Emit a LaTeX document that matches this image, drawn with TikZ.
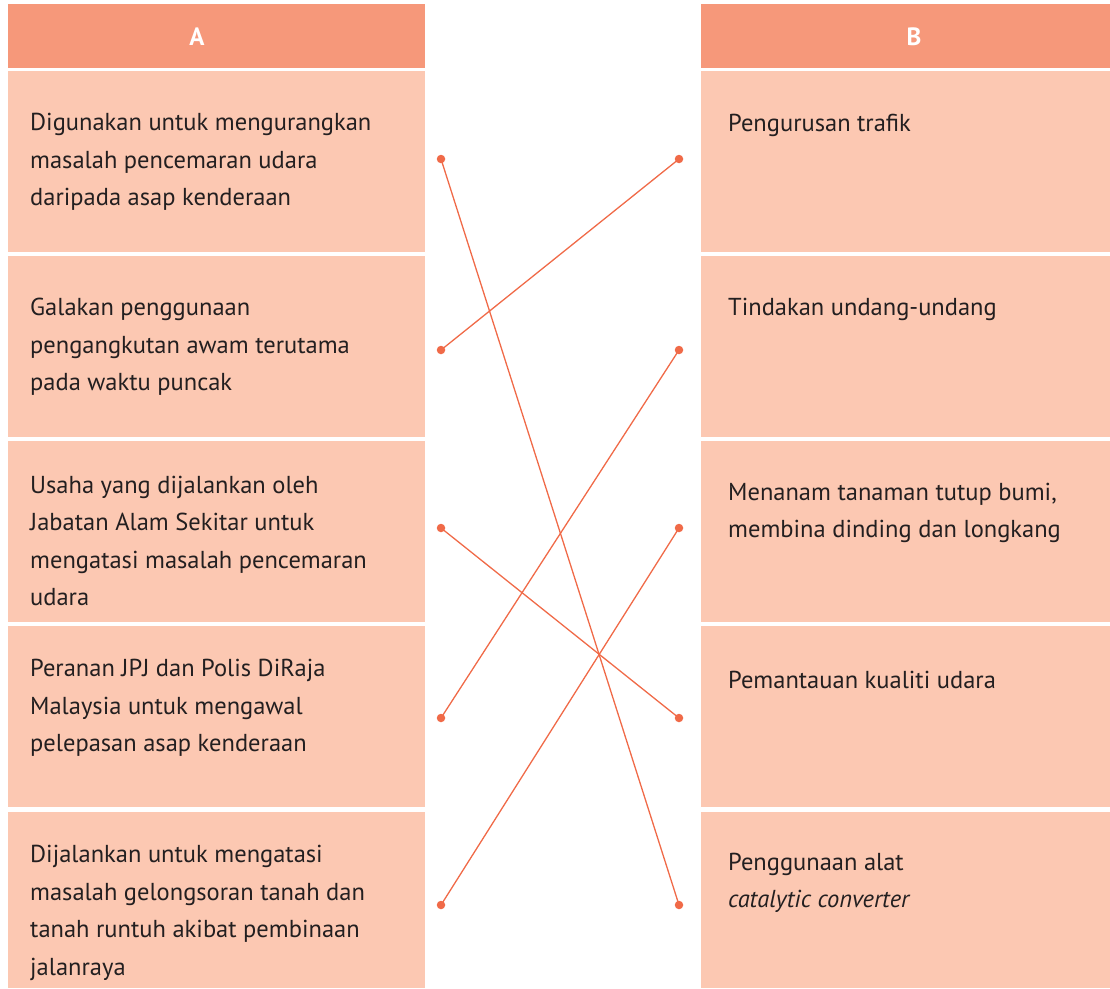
\documentclass[tikz,border=0pt]{standalone}
\usepackage{fontspec}
\setmainfont{PT Sans}
\definecolor{hdr}{HTML}{F6987A}
\definecolor{cell}{HTML}{FCC8B2}
\definecolor{lnk}{HTML}{F06A48}
\definecolor{txt}{HTML}{231F20}
\begin{document}
\begin{tikzpicture}[x=1pt,y=-1pt,
  hdrbox/.style={fill=hdr,draw=none},
  cellbox/.style={fill=cell,draw=none},
  hdrtext/.style={text=white,font=\fontsize{25}{28}\selectfont\bfseries},
  celltext/.style={text=txt,anchor=west,align=left,inner sep=0pt,font=\fontsize{24.5}{37.5}\selectfont},
  dot/.style={circle,fill=lnk,inner sep=0pt,minimum size=8.5pt},
  link/.style={draw=lnk,line width=1.3pt}]
\useasboundingbox (0,0) rectangle (1110,988);
% headers
\fill[hdrbox] (8,4) rectangle (425,68);
\fill[hdrbox] (701,4) rectangle (1110,68);
\node[hdrtext] (ha) at (197,37) {A};
\node[hdrtext] (hb) at (914,37) {B};
% cells
\foreach \t/\b in {71/252,256/437,441/622,626/807,812/988}{
  \fill[cellbox] (8,\t) rectangle (425,\b);
  \fill[cellbox] (701,\t) rectangle (1110,\b);
}
% left texts
\node[celltext] (a1) at (30,162) {Digunakan untuk mengurangkan\\masalah pencemaran udara\\daripada asap kenderaan};
\node[celltext] (a2) at (30,347) {Galakan penggunaan\\pengangkutan awam terutama\\pada waktu puncak};
\node[celltext] (a3) at (30,541) {Usaha yang dijalankan oleh\\Jabatan Alam Sekitar untuk\\mengatasi masalah pencemaran\\udara};
\node[celltext] (a4) at (30,708) {Peranan JPJ dan Polis DiRaja\\Malaysia untuk mengawal\\pelepasan asap kenderaan};
\node[celltext] (a5) at (30,913) {Dijalankan untuk mengatasi\\masalah gelongsoran tanah dan\\tanah runtuh akibat pembinaan\\jalanraya};
% right texts
\node[celltext] (b1) at (728,125) {Pengurusan trafik};
\node[celltext] (b2) at (728,309) {Tindakan undang-undang};
\node[celltext] (b3) at (728,513) {Menanam tanaman tutup bumi,\\membina dinding dan longkang};
\node[celltext] (b4) at (728,680) {Pemantauan kualiti udara};
\node[celltext] (b5) at (728,883) {Penggunaan alat\\\textit{catalytic converter}};
% dots
\node[dot] (l1) at (441,159) {};
\node[dot] (l2) at (441,350) {};
\node[dot] (l3) at (441,528) {};
\node[dot] (l4) at (441,718) {};
\node[dot] (l5) at (441,905) {};
\node[dot] (r1) at (679,159) {};
\node[dot] (r2) at (679,350) {};
\node[dot] (r3) at (679,528) {};
\node[dot] (r4) at (679,718) {};
\node[dot] (r5) at (679,905) {};
% links
\draw[link] (l1.center) -- (r5.center);
\draw[link] (l2.center) -- (r1.center);
\draw[link] (l3.center) -- (r4.center);
\draw[link] (l4.center) -- (r2.center);
\draw[link] (l5.center) -- (r3.center);
\end{tikzpicture}
\end{document}
